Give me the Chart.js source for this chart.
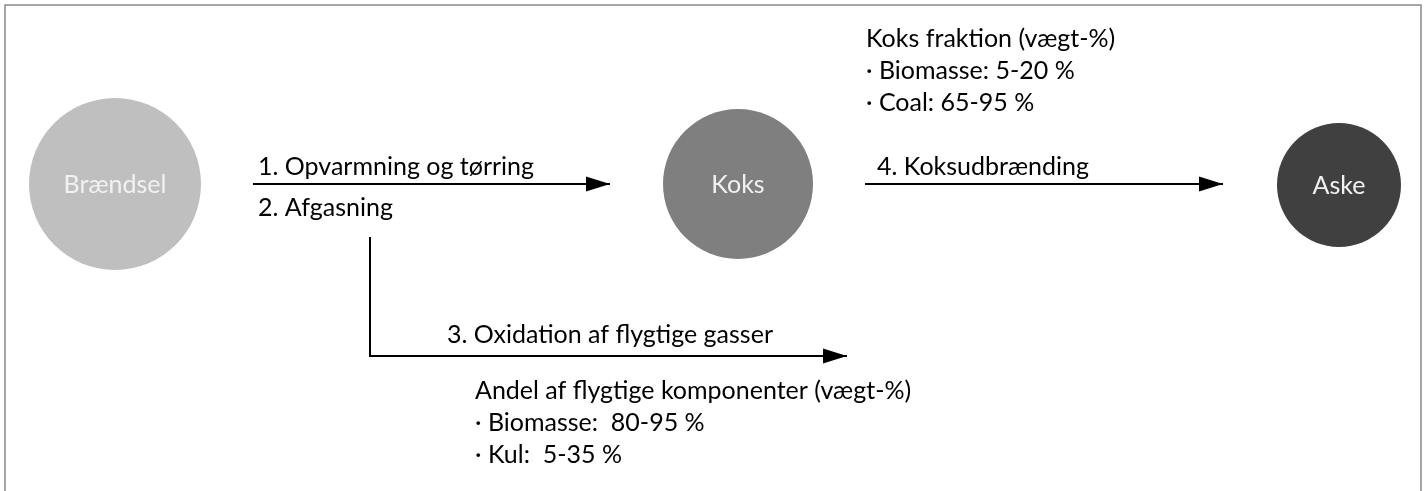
<!DOCTYPE html>
<html lang="da">

<head>
    <meta charset="UTF-8">
    <title>Forbrænding af fast brændsel</title>
    <style>
        html, body {
            margin: 0;
            padding: 0;
            background: #fff;
        }
        #wrap {
            width: 1426px;
            height: 491px;
        }
    </style>
</head>

<body>
    <div id="wrap">
        <canvas id="diagram" width="1426" height="491"></canvas>
    </div>
    <script src="https://cdn.jsdelivr.net/npm/chart.js@4"></script>
    <script>
        // the three stages, placed on a 1426 x 491 plane
        const nodeLabels = ['Brændsel', 'Koks', 'Aske'];
        const nodeX = [115, 738, 1339];
        const nodeY = [184, 184, 185];
        const nodeR = [86, 75, 62];

        // arrow paths (x / y pairs, last point is the tip)
        const arrowOpvarmX = [253, 610];
        const arrowOpvarmY = [184, 184];
        const arrowKoksX = [865, 1223];
        const arrowKoksY = [184, 184];
        const arrowGasX = [370, 370, 847];
        const arrowGasY = [237, 356, 356];

        // texts
        const stepLabels = ['1. Opvarmning og tørring', '2. Afgasning', '3. Oxidation af flygtige gasser', '4. Koksudbrænding'];
        const koksFraction = ['Koks fraktion (vægt-%)', '· Biomasse: 5-20 %', '· Coal: 65-95 %'];
        const volatileShare = ['Andel af flygtige komponenter (vægt-%)', '· Biomasse:  80-95 %', '· Kul:  5-35 %'];

        const FONT = 'Lato, "Open Sans", sans-serif';

        let ctx = document.getElementById('diagram').getContext('2d');

        // size the font so the longest line is as wide as in the original (437px)
        ctx.font = '100px ' + FONT;
        let fontSize = Math.round(100 * 437 / ctx.measureText(volatileShare[0]).width * 2) / 2;

        const toPoints = (xs, ys) => xs.map((x, i) => ({ x: x, y: ys[i] }));

        const frame = {
            id: 'frame',
            beforeDraw(chart) {
                let c = chart.ctx, a = chart.chartArea;
                c.save();
                c.strokeStyle = '#8a8a8a';
                c.lineWidth = 1.5;
                c.beginPath();
                c.moveTo(a.left + 5, a.bottom + 5);
                c.lineTo(a.left + 5, a.top + 5);
                c.lineTo(a.right - 5, a.top + 5);
                c.lineTo(a.right - 5, a.bottom + 5);
                c.stroke();
                c.restore();
            }
        };

        const arrowHeads = {
            id: 'arrowHeads',
            afterDatasetsDraw(chart) {
                let c = chart.ctx;
                chart.data.datasets.forEach((ds, i) => {
                    if (!ds.arrowHead) return;
                    let pts = chart.getDatasetMeta(i).data;
                    let tip = pts[pts.length - 1], prev = pts[pts.length - 2];
                    let ang = Math.atan2(tip.y - prev.y, tip.x - prev.x);
                    c.save();
                    c.translate(tip.x, tip.y);
                    c.rotate(ang);
                    c.fillStyle = '#000';
                    c.beginPath();
                    c.moveTo(0, 0);
                    c.lineTo(-24, -7.5);
                    c.lineTo(-24, 7.5);
                    c.closePath();
                    c.fill();
                    c.restore();
                });
            }
        };

        const texts = {
            id: 'texts',
            afterDatasetsDraw(chart) {
                let c = chart.ctx, sx = chart.scales.x, sy = chart.scales.y;
                let put = (t, x, y) => c.fillText(t, sx.getPixelForValue(x), sy.getPixelForValue(y));
                c.save();
                c.font = fontSize + 'px ' + FONT;

                // stage names inside the circles
                c.fillStyle = '#f2f2f2';
                c.textAlign = 'center';
                c.textBaseline = 'middle';
                nodeLabels.forEach((t, i) => put(t, nodeX[i], nodeY[i] + 1));

                c.fillStyle = '#000';
                c.textAlign = 'left';
                c.textBaseline = 'alphabetic';
                let stepPos = [[258, 175], [258, 216], [447, 343], [877, 175]];
                stepLabels.forEach((t, i) => put(t, stepPos[i][0], stepPos[i][1]));
                koksFraction.forEach((t, i) => put(t, 866, 47 + i * 32));
                volatileShare.forEach((t, i) => put(t, 475, 399 + i * 32));
                c.restore();
            }
        };

        let lineStyle = {
            type: 'line',
            borderColor: '#000',
            borderWidth: 2,
            pointRadius: 0,
            pointHoverRadius: 0,
            tension: 0,
            fill: false,
            arrowHead: true
        };

        let chart = new Chart(ctx, {
            type: 'bubble',
            data: {
                datasets: [
                    {
                        label: 'Stadier',
                        data: nodeLabels.map((l, i) => ({ x: nodeX[i], y: nodeY[i], r: nodeR[i] })),
                        backgroundColor: ['#bfbfbf', '#7f7f7f', '#404040'],
                        borderWidth: 0,
                        hoverRadius: 0,
                        hoverBorderWidth: 0
                    },
                    Object.assign({ label: 'Opvarmning', data: toPoints(arrowOpvarmX, arrowOpvarmY) }, lineStyle),
                    Object.assign({ label: 'Koksudbrænding', data: toPoints(arrowKoksX, arrowKoksY) }, lineStyle),
                    Object.assign({ label: 'Oxidation', data: toPoints(arrowGasX, arrowGasY) }, lineStyle)
                ]
            },
            options: {
                responsive: false,
                animation: false,
                events: [],
                layout: { padding: 0, autoPadding: false },
                scales: {
                    x: { type: 'linear', min: 0, max: 1426, display: false },
                    y: { type: 'linear', min: 0, max: 491, reverse: true, display: false }
                },
                plugins: {
                    legend: { display: false },
                    tooltip: { enabled: false }
                }
            },
            plugins: [frame, arrowHeads, texts]
        });
    </script>
</body>

</html>
